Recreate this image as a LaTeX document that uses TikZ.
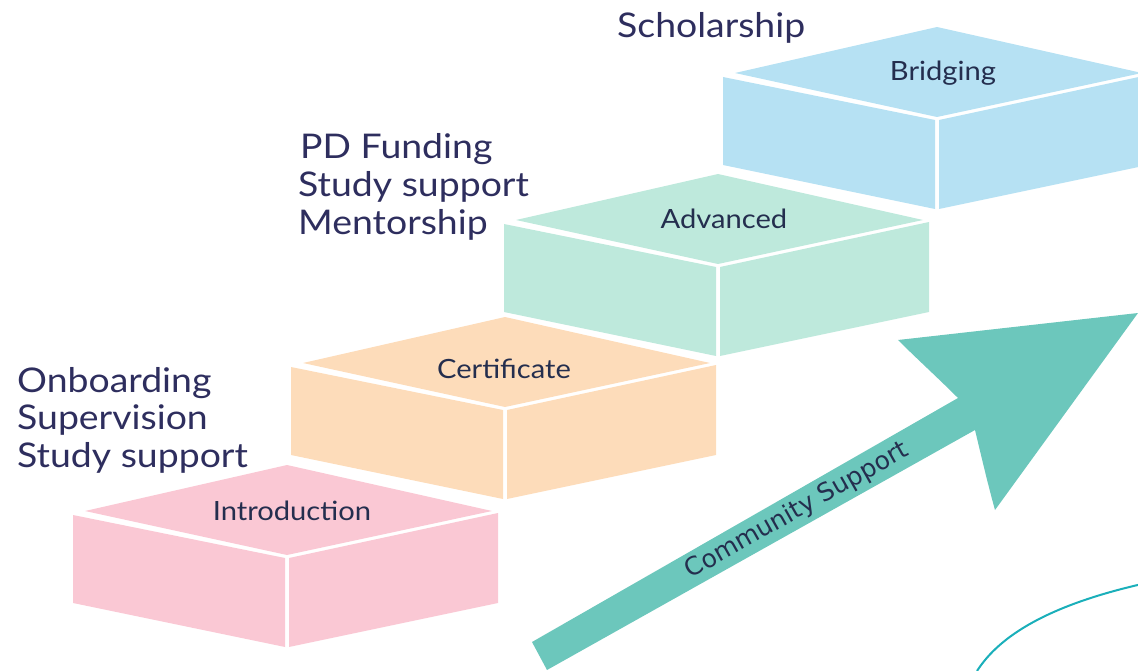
\documentclass[tikz,border=0pt]{standalone}
\usepackage{fontspec}
\setmainfont{Lato}[FakeStretch=1.1]
\newfontfamily\dejavu{DejaVu Sans}
\definecolor{pinkblk}{RGB}{250,200,212}
\definecolor{peachblk}{RGB}{253,220,186}
\definecolor{mintblk}{RGB}{190,233,220}
\definecolor{blueblk}{RGB}{182,225,243}
\definecolor{arrowteal}{RGB}{108,199,188}
\definecolor{curveteal}{RGB}{26,175,186}
\definecolor{navytext}{RGB}{46,46,94}
\definecolor{labeltext}{RGB}{36,46,78}
\tikzset{
  biglabel/.style={anchor=base west, inner sep=0pt, text=navytext, font=\fontsize{34}{37}\selectfont},
  blocklabel/.style={anchor=base, inner sep=0pt, text=labeltext, font=\fontsize{26.5}{30}\selectfont},
  arrowlabel/.style={inner sep=0pt, text=labeltext, font=\dejavu\fontsize{25}{29}\selectfont, rotate=29.5}
}
\newcommand\stairblock[3]{% #1 cx, #2 cy (front vertex), #3 colour
  \fill[#3] ({#1-202},{#2-45}) -- (#1,{#2-91}) -- ({#1+205},{#2-45}) -- (#1,{#2-1}) -- cycle;
  \fill[#3] ({#1-214},{#2-41}) -- ({#1-2},{#2+2}) -- ({#1-2},{#2+91}) -- ({#1-214},{#2+47}) -- cycle;
  \fill[#3] ({#1+2},{#2+2}) -- ({#1+211},{#2-43}) -- ({#1+211},{#2+47}) -- ({#1+2},{#2+91}) -- cycle;
}
\begin{document}
\begin{tikzpicture}[x=1pt,y=-1pt]
\useasboundingbox (0,0) rectangle (1138,671);
\begin{scope}
\clip (0,0) rectangle (1138,671);
% blocks
\stairblock{937}{118}{blueblk}
\stairblock{718}{265}{mintblk}
\stairblock{505}{408}{peachblk}
\stairblock{287}{556}{pinkblk}
% arrow
\fill[arrowteal] (532,642) coordinate (tailA) -- (958,398)
  .. controls (938,378) and (916,358) .. (898,340)
  -- (1138,313) coordinate (tip) -- (995,510)
  .. controls (988,485) and (981,455) .. (975,430)
  -- (547,670) coordinate (tailB) -- cycle;
% curve
\draw[curveteal, line width=2pt] (977,671) .. controls (1000,635) and (1050,605) .. (1142,584);
\end{scope}
% block labels
\node[blocklabel] (intro) at (292,520) {Introduction};
\node[blocklabel] (cert) at (504,378) {Certificate};
\node[blocklabel] (adv) at (724,229) {Advanced};
\node[blocklabel] (bridge) at (943,81) {Bridging};
% arrow label
\node[arrowlabel] (comm) at (797,511) {Community Support};
% side labels
\node[biglabel] (schol) at (617,38) {Scholarship};
\node[biglabel] (pdf) at (300,159) {PD Funding};
\node[biglabel] (study2) at (298,197) {Study support};
\node[biglabel] (ment) at (298,235) {Mentorship};
\node[biglabel] (onb) at (17,392) {Onboarding};
\node[biglabel] (sup) at (17,429) {Supervision};
\node[biglabel] (study1) at (17,467) {Study support};
\end{tikzpicture}
\end{document}
